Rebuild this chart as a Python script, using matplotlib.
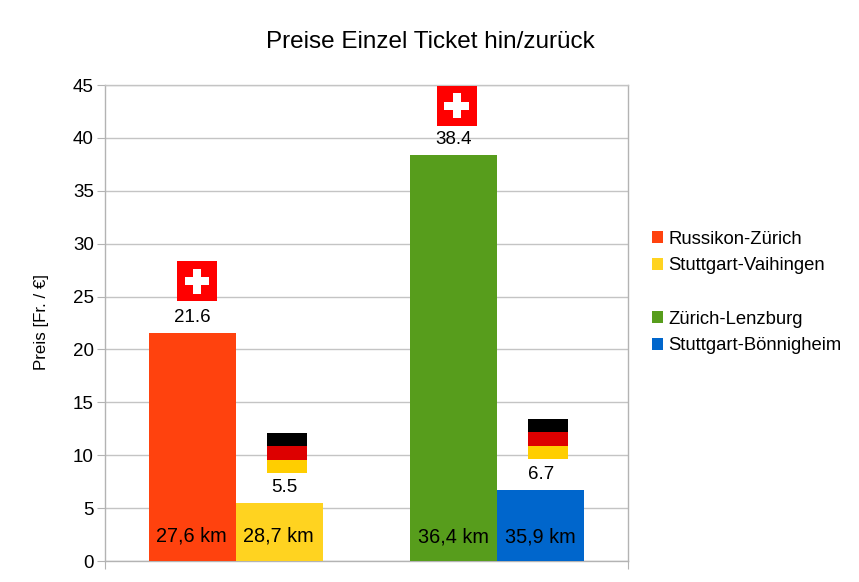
# -*- coding: utf-8 -*-
import matplotlib
matplotlib.use('Agg')
import matplotlib.pyplot as plt
from matplotlib.patches import Patch, Rectangle

plt.rcParams['font.family'] = 'Liberation Sans'

routes = ['Russikon-Zürich', 'Stuttgart-Vaihingen', 'Zürich-Lenzburg', 'Stuttgart-Bönnigheim']
prices = [21.6, 5.5, 38.4, 6.7]
distances = ['27,6 km', '28,7 km', '36,4 km', '35,9 km']
groups = [0, 0, 1, 1]
sides = [-1, 1, -1, 1]
colors = ['#ff420e', '#ffd320', '#579d1c', '#0066cc']
yticks = [0, 5, 10, 15, 20, 25, 30, 35, 40, 45]

W, H = 859, 582
bar_w = 1 / 3
label_dx = [0, 5, 0, 0]
dist_dy = [18, 18, 17, 17]

fig = plt.figure(figsize=(W / 100, H / 100), dpi=100)
ax = fig.add_axes([105 / W, 1 - 561 / H, 523 / W, 476 / H])

xpos = [g + s * bar_w / 2 for g, s in zip(groups, sides)]
bars = ax.bar(xpos, prices, width=bar_w, color=colors, zorder=3)

ax.set_xlim(-0.5, 1.5)
ax.set_ylim(0, 45)
ax.set_yticks(yticks)
ax.set_xticks([-0.5, 1.5])
ax.set_xticklabels([])
ax.grid(axis='y', color='#c4c4c4', linewidth=1.0, zorder=0)
ax.set_axisbelow(True)
ax.tick_params(axis='y', labelsize=13.5, length=6, width=0.8, color='#b3b3b3', pad=2)
ax.tick_params(axis='x', length=6, width=0.8, color='#b3b3b3')
for s in ax.spines.values():
    s.set_color('#b3b3b3')
    s.set_linewidth(1.0)
ax.spines['top'].set_color('#c4c4c4')

ax.set_ylabel('Preis [Fr. / €]', fontsize=12.2, labelpad=0)
ax.yaxis.set_label_coords((49 - 105) / 523, (561 - 322) / 476)

fig.text(430 / W, 1 - 41.5 / H, 'Preise Einzel Ticket hin/zurück', fontsize=17.5,
         ha='center', va='center')

# value on top, distance inside the bar
for x, p, d, dx, dy in zip(xpos, prices, distances, label_dx, dist_dy):
    ax.annotate(f'{p}', (x, p), xytext=(dx * 0.72, 11), textcoords='offset points',
                ha='center', va='center', fontsize=13.5, zorder=5)
    ax.annotate(d, (x, 0), xytext=(-0.5, dy), textcoords='offset points',
                ha='center', va='center', fontsize=14.3, zorder=5)


def px_rect(x0, y0, w, h, color):
    # pixel box (from top left) into figure coordinates
    r = Rectangle((x0 / W, 1 - (y0 + h) / H), w / W, h / H, transform=fig.transFigure,
                  facecolor=color, edgecolor='none', clip_on=False, zorder=6)
    ax.add_patch(r)


def swiss_flag(x0, y0):
    px_rect(x0, y0, 39.5, 40, '#ff0000')
    px_rect(x0 + 7.5, y0 + 16, 24.5, 8, 'white')
    px_rect(x0 + 15.7, y0 + 7.5, 8, 25, 'white')


def german_flag(x0, y0):
    px_rect(x0, y0, 40, 13.4, '#000000')
    px_rect(x0, y0 + 13.4, 40, 13.3, '#dd0000')
    px_rect(x0, y0 + 26.7, 40, 13.3, '#ffce00')


swiss_flag(177, 261)
swiss_flag(437, 86)
german_flag(267, 433)
german_flag(528, 419)

# empty row splits the two pairs in the legend
handles = [bars[0], bars[1], Patch(visible=False), bars[2], bars[3]]
labels = [routes[0], routes[1], '', routes[2], routes[3]]
fig.legend(handles, labels, loc='center left', bbox_to_anchor=(652 / W, 1 - 292.5 / H),
           frameon=False, fontsize=13.35, handlelength=0.6, handleheight=0.6,
           handletextpad=0.27, labelspacing=0.52, borderaxespad=0, borderpad=0)

plt.savefig('out.png', dpi=100)
